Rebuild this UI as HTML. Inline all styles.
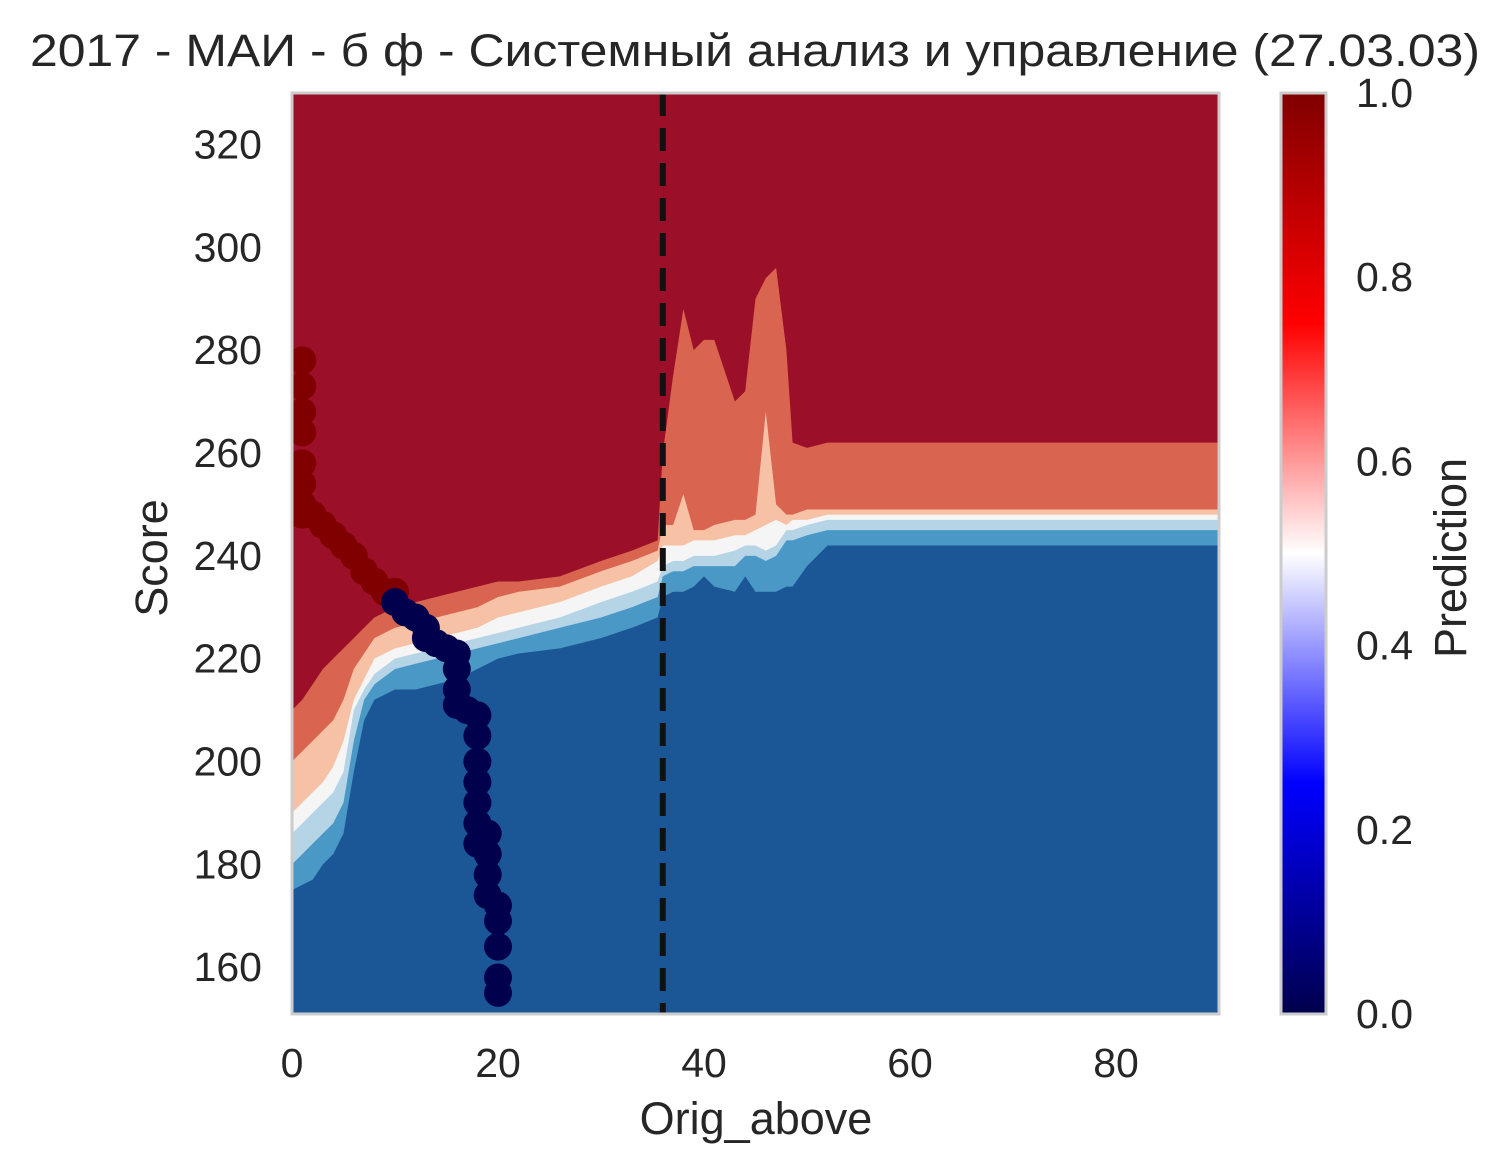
<!DOCTYPE html>
<html><head><meta charset="utf-8"><style>
body{margin:0;background:#fff;}
svg{display:block;font-family:"Liberation Sans","DejaVu Sans",sans-serif;fill:#262626;}
</style></head><body>
<svg id="chart" width="1512" height="1174" viewBox="0 0 1512 1174">
<defs><linearGradient id="seis" x1="0" y1="1" x2="0" y2="0">
<stop offset="0" stop-color="#00004c"/><stop offset="0.25" stop-color="#0000ff"/><stop offset="0.5" stop-color="#ffffff"/><stop offset="0.75" stop-color="#ff0000"/><stop offset="1" stop-color="#800000"/></linearGradient>
<clipPath id="pc"><rect x="292" y="93" width="927" height="921"/></clipPath></defs>
<text x="755" y="66" font-size="45" text-anchor="middle" textLength="1450" lengthAdjust="spacingAndGlyphs">2017 - МАИ - б ф - Системный анализ и управление (27.03.03)</text>
<g id="plot" clip-path="url(#pc)"></g>
<rect x="292" y="93" width="927" height="921" fill="none" stroke="#cccccc" stroke-width="3"/>
<g id="axes"></g>
<text x="756" y="1134" font-size="45" text-anchor="middle">Orig_above</text>
<text transform="translate(167,558) rotate(-90)" font-size="45" text-anchor="middle">Score</text>
<rect x="1281" y="93" width="45" height="921" fill="url(#seis)" stroke="#cccccc" stroke-width="3"/>
<g id="cbticks"></g>
<text transform="translate(1466,558) rotate(-90)" font-size="45" text-anchor="middle">Prediction</text>
</svg>
<script>
const xs=[0,1,2,3,4,5,6,7,8,10,12,14,16,18,20,22,26,30,33,35.5,36,37,38,39,40,41,43,44,45,46,47,48,48.6,50,52,55,60,70,80,90];
const b1=[175,176,177,180,182,186,198,208,212,214,214,215,216,218,220,221,222,224,226,228,232,233,233,234,236,234,233,236,233,233,233,234,234,238,242,242,242,242,242,242];
const b2=[180,182,184,186,188,192,204,212,215,218,219,220,221,222,223,224,226,228,230,232,236,237,237,238,238,238,238,240,240,239,240,243,243,244,245,245,245,245,245,245];
const b3=[186,188,190,192,194,198,210,214,217,220,221,222,223,224,225,226,228,231,233,235,238,239,239,240,240,240,241,242,242,241,242,245,245,246,247,247,247,247,247,247];
const b4=[190,192,194,196,199,204,212,216,220,222,223,224,225,226,228,229,231,234,236,239,242,242,242,243,243,243,244,244,245,246,247,246,247,247,248,248,248,248,248,248];
const b5=[200,202,204,206,208,212,218,221,224,226,227,228,229,230,232,233,234,237,239,241,246,246,252,245,245,246,247,247,248,268,250,248,248,249,249,249,249,249,249,249];
const b6=[210,212,215,218,220,222,224,226,228,230,231,232,233,234,235,235,236,239,241,243,260,275,288,280,282,282,270,272,290,294,296,280,262,261,262,262,262,262,262,262];
const redX=[1,1,1,1,1,1,1,1,2,3,4,5,6,7,8,9,10];
const redY=[278,273,268,264,258,254,250,248,248,246,244,242,240,237,235,233,233];
const navyX=[10,11,12,13,13,14,15,16,16,16,16,17,18,18,18,18,18,18,18,19,19,19,19,20,20,20,20,20];
const navyY=[231,229,228,226,224,223,222,221,218,214,211,210,209,205,200,196,192,188,184,186,182,178,174,172,169,164,158,155];
const xTicks=[0,20,40,60,80];
const yTicks=[160,180,200,220,240,260,280,300,320];
const cTicks=[0,0.2,0.4,0.6,0.8,1.0];
const cutoff=36;
const NS='http://www.w3.org/2000/svg';
const X=v=>292+v*927/90;
const Y=v=>1014-(v-150.9)*921/179.1;
function el(t,a,p){const e=document.createElementNS(NS,t);for(const k in a)e.setAttribute(k,a[k]);p.appendChild(e);return e;}
const plot=document.getElementById('plot');
let bg=el('rect',{x:292,y:93,width:927,height:921,fill:'#1b5796'},plot);


const bands=[[b1,'#4a98c5','band-mid-blue'],[b2,'#b5d4e6','band-light-blue'],[b3,'#f5f5f5','band-white'],[b4,'#f7c1a5','band-peach'],[b5,'#d96550','band-salmon'],[b6,'#9b1028','band-dark-red']];
bands.forEach(([b,c,n])=>{
  let d='M'+X(xs[0])+','+Y(b[0]);
  for(let i=1;i<xs.length;i++)d+=' L'+X(xs[i])+','+Y(b[i]);
  d+=' L'+X(90)+',80 L'+X(0)+',80 Z';
  const p=el('path',{d:d,fill:c},plot);
  
  
});
const ln=el('line',{x1:X(cutoff),x2:X(cutoff),y1:93,y2:1014,stroke:'#111',"stroke-width":6,"stroke-dasharray":"23,12"},plot);


redX.forEach((x,i)=>{const c=el('circle',{cx:X(x),cy:Y(redY[i]),r:14,fill:'#800000'},plot);

});
navyX.forEach((x,i)=>{const c=el('circle',{cx:X(x),cy:Y(navyY[i]),r:14,fill:'#00004c'},plot);

});
const ax=document.getElementById('axes');
xTicks.forEach(v=>{const t=el('text',{x:X(v),y:1077,"font-size":41,"text-anchor":"middle"},ax);t.textContent=v;

});
yTicks.forEach(v=>{const t=el('text',{x:262,y:Y(v)+14,"font-size":41,"text-anchor":"end"},ax);t.textContent=v;

});
const cb=document.getElementById('cbticks');
cTicks.forEach(v=>{const t=el('text',{x:1356,y:1014-v*921+14,"font-size":41},cb);t.textContent=v.toFixed(1);

});
</script>
</body></html>
